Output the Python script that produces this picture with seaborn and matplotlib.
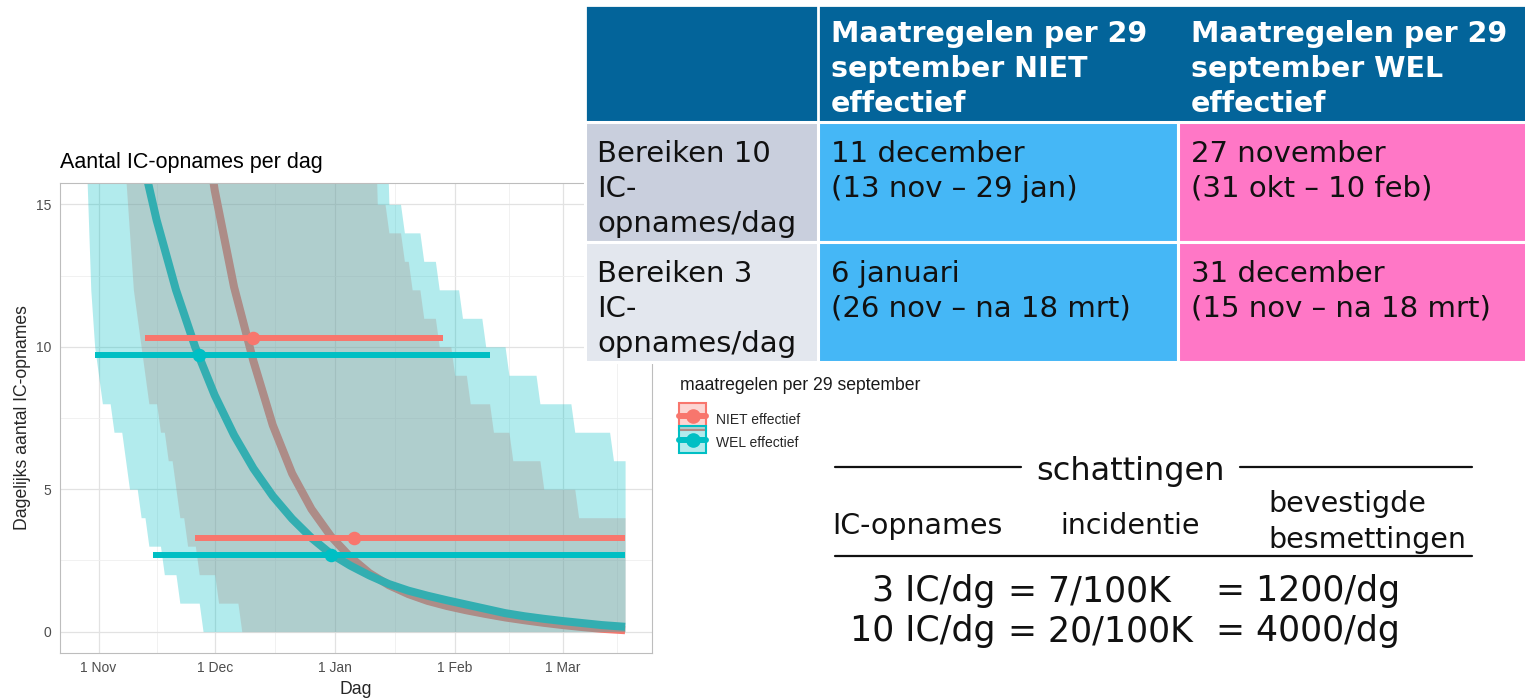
import numpy as np
import pandas as pd
import matplotlib
matplotlib.use("Agg")
import matplotlib.pyplot as plt
import matplotlib.dates as mdates
from matplotlib.patches import Rectangle, Patch
from matplotlib.lines import Line2D
from matplotlib.legend_handler import HandlerTuple, HandlerPatch
import seaborn as sns

# ---------------- data ----------------
scenarios = ["NIET effectief", "WEL effectief"]
legend_title = "maatregelen per 29 september"

# central (median) curves of daily IC admissions
wel_curve_dates = ["2020-11-01", "2020-11-06", "2020-11-11", "2020-11-16", "2020-11-21",
                   "2020-11-26", "2020-12-01", "2020-12-06", "2020-12-11", "2020-12-16",
                   "2020-12-21", "2020-12-26", "2020-12-31", "2021-01-05", "2021-01-10",
                   "2021-01-15", "2021-01-20", "2021-01-25", "2021-01-30", "2021-02-04",
                   "2021-02-09", "2021-02-14", "2021-02-19", "2021-02-24", "2021-03-01",
                   "2021-03-06", "2021-03-11", "2021-03-17"]
wel_curve = [25.2, 20.9, 17.4, 14.45, 12.0, 9.98, 8.30, 6.90, 5.73, 4.76, 3.96, 3.29, 2.73,
             2.32, 1.97, 1.67, 1.44, 1.26, 1.10, 0.95, 0.80, 0.65, 0.54, 0.45, 0.37, 0.30,
             0.23, 0.17]
niet_curve_dates = wel_curve_dates[4:]
niet_curve = [25.5, 20.0, 15.5, 12.1, 9.5, 7.25, 5.55, 4.3, 3.35, 2.62, 2.05, 1.63, 1.32,
              1.08, 0.9, 0.75, 0.62, 0.5, 0.4, 0.31, 0.23, 0.16, 0.1, 0.05]

# uncertainty bands (integer daily quantiles): dates where the bound changes, new value
ribbon_start, ribbon_end = "2020-10-29", "2021-03-17"
wel_lo_dates = ["2020-10-29", "2020-10-30", "2020-10-31", "2020-11-01", "2020-11-02",
                "2020-11-05", "2020-11-08", "2020-11-09", "2020-11-12", "2020-11-14",
                "2020-11-18", "2020-11-22", "2020-11-28"]
wel_lo_vals = [16, 12, 10, 9, 8, 7, 6, 5, 4, 3, 2, 1, 0]
wel_hi_dates = ["2020-10-29", "2021-01-15", "2021-01-19", "2021-01-24", "2021-01-28",
                "2021-02-03", "2021-02-09", "2021-02-15", "2021-02-23", "2021-03-04",
                "2021-03-14"]
wel_hi_vals = [20, 15, 14, 13, 12, 11, 10, 9, 8, 7, 6]
niet_lo_dates = ["2020-10-29", "2020-11-08", "2020-11-09", "2020-11-10", "2020-11-11",
                 "2020-11-12", "2020-11-13", "2020-11-14", "2020-11-17", "2020-11-19",
                 "2020-11-21", "2020-11-22", "2020-11-24", "2020-11-27", "2020-12-02",
                 "2020-12-08"]
niet_lo_vals = [20, 16, 14, 12, 11, 10, 9, 8, 7, 6, 5, 4, 3, 2, 1, 0]
niet_hi_dates = ["2020-10-29", "2021-01-12", "2021-01-15", "2021-01-19", "2021-01-21",
                 "2021-01-24", "2021-01-28", "2021-02-01", "2021-02-05", "2021-02-11",
                 "2021-02-16", "2021-02-24", "2021-03-05"]
niet_hi_vals = [20, 15, 14, 13, 12, 11, 10, 9, 8, 7, 6, 5, 4]

# estimated moment of reaching 10 and 3 IC admissions/day (median and range)
niet_levels = [10.3, 3.3]
niet_start = ["2020-11-13", "2020-11-26"]
niet_mid = ["2020-12-11", "2021-01-06"]
niet_end = ["2021-01-29", "2021-03-17"]
wel_levels = [9.7, 2.7]
wel_start = ["2020-10-31", "2020-11-15"]
wel_mid = ["2020-11-27", "2020-12-31"]
wel_end = ["2021-02-10", "2021-03-17"]

x_ticks = ["2020-11-01", "2020-12-01", "2021-01-01", "2021-02-01", "2021-03-01"]
x_tick_labels = ["1 Nov", "1 Dec", "1 Jan", "1 Feb", "1 Mar"]
y_ticks = [0, 5, 10, 15]
y_range = [0, 15]

chart_title = "Aantal IC-opnames per dag"
x_label = "Dag"
y_label = "Dagelijks aantal IC-opnames"

table_header = ["", "Maatregelen per 29\nseptember NIET\neffectief",
                "Maatregelen per 29\nseptember WEL\neffectief"]
table_rows = [["Bereiken 10\nIC-\nopnames/dag", "11 december\n(13 nov \u2013 29 jan)",
               "27 november\n(31 okt \u2013 10 feb)"],
              ["Bereiken 3\nIC-\nopnames/dag", "6 januari\n(26 nov \u2013 na 18 mrt)",
               "31 december\n(15 nov \u2013 na 18 mrt)"]]

schat_title = "schattingen"
schat_cols = ["IC-opnames", "incidentie", "bevestigde\nbesmettingen"]
schat_rows = [["3 IC/dg", "= 7/100K", "= 1200/dg"],
              ["10 IC/dg", "= 20/100K", "= 4000/dg"]]

# ---------------- style ----------------
sns.set_style("white")
plt.rcParams["font.family"] = ["Liberation Sans", "DejaVu Sans"]

RED, CYAN = "#F8766D", "#00BFC4"
palette = {scenarios[0]: RED, scenarios[1]: CYAN}

W, H = 1525, 699
fig = plt.figure(figsize=(W / 100, H / 100), dpi=100)
fig.patch.set_facecolor("white")

ax = fig.add_axes([60 / W, 1 - 653 / H, 592 / W, 470 / H])
ax.set_facecolor("white")

# curves (drawn first, under the ribbons)
df = pd.concat([
    pd.DataFrame({"Dag": pd.to_datetime(niet_curve_dates), "IC": niet_curve,
                  "scenario": scenarios[0]}),
    pd.DataFrame({"Dag": pd.to_datetime(wel_curve_dates), "IC": wel_curve,
                  "scenario": scenarios[1]}),
])
sns.lineplot(data=df, x="Dag", y="IC", hue="scenario", palette=palette,
             linewidth=5.8, legend=False, estimator=None, ax=ax)
for ln in ax.lines:
    ln.set_zorder(1.5)
    ln.set_solid_capstyle("butt")
    ln.set_solid_joinstyle("round")

days = pd.date_range(ribbon_start, ribbon_end, freq="D")


def steps(dates, vals):
    s = pd.Series(vals, index=pd.to_datetime(dates), dtype=float)
    return s.reindex(days, method="ffill").values


dnum = mdates.date2num(days)
ax.fill_between(dnum, steps(niet_lo_dates, niet_lo_vals), steps(niet_hi_dates, niet_hi_vals),
                color=RED, alpha=0.3, linewidth=0, zorder=2)
ax.fill_between(dnum, steps(wel_lo_dates, wel_lo_vals), steps(wel_hi_dates, wel_hi_vals),
                color=CYAN, alpha=0.3, linewidth=0, zorder=2.1)

# range lines and medians
for lv, st, md, en, col in [(niet_levels, niet_start, niet_mid, niet_end, RED),
                            (wel_levels, wel_start, wel_mid, wel_end, CYAN)]:
    ax.hlines(lv, mdates.date2num(pd.to_datetime(st)), mdates.date2num(pd.to_datetime(en)),
              colors=col, linewidth=4.3, zorder=3)
    sns.scatterplot(x=mdates.date2num(pd.to_datetime(md)), y=lv, color=col, s=95,
                    linewidth=0, zorder=4, ax=ax, legend=False)

# scales (ggplot-like 5% expansion)
t0, t1 = pd.Timestamp(ribbon_start), pd.Timestamp(ribbon_end)
span = t1 - t0
ax.set_xlim(mdates.date2num(t0 - 0.05 * span), mdates.date2num(t1 + 0.05 * span))
yspan = y_range[1] - y_range[0]
ax.set_ylim(y_range[0] - 0.05 * yspan, y_range[1] + 0.05 * yspan)

xt = pd.to_datetime(x_ticks)
ax.set_xticks(mdates.date2num(xt))
ax.set_xticklabels(x_tick_labels)
mids = list(xt[:-1] + (xt[1:] - xt[:-1]) / 2) + [xt[-1] + (xt[-1] - xt[-2]) / 2]
ax.set_xticks(mdates.date2num(pd.DatetimeIndex(mids)), minor=True)
ax.set_yticks(y_ticks)
ax.set_yticks([(a + b) / 2 for a, b in zip(y_ticks[:-1], y_ticks[1:])], minor=True)

ax.set_axisbelow(True)
ax.grid(which="major", color="#E2E2E2", linewidth=0.9)
ax.grid(which="minor", color="#EFEFEF", linewidth=0.6)
for sp in ax.spines.values():
    sp.set_color("#BDBDBD")
    sp.set_linewidth(0.8)
ax.tick_params(which="major", length=3, color="#BDBDBD", labelsize=10,
               labelcolor="#4D4D4D", pad=3)
ax.tick_params(which="minor", length=0)

ax.set_title(chart_title, loc="left", fontsize=15.5, pad=11, color="black")
ax.set_xlabel(x_label, fontsize=12.7, labelpad=4)
ax.set_ylabel(y_label, fontsize=12.7, labelpad=4)


# legend (keys: light band + range line with median point)
def full_rect(legend, orig_handle, xdescent, ydescent, width, height, fontsize):
    return Rectangle((-xdescent, -ydescent), width, height + ydescent)


handles = []
for sc in scenarios:
    c = palette[sc]
    handles.append((Patch(facecolor=matplotlib.colors.to_rgba(c, 0.3), edgecolor=c, linewidth=1.5),
                    Line2D([], [], color=c, linewidth=4.3, marker="o", markersize=9.5)))
fig.text(680 / W, 1 - 386 / H, legend_title, fontsize=12.7, color="#1A1A1A",
         ha="left", va="center")
leg = fig.legend(handles, scenarios, loc="upper left",
                 bbox_to_anchor=(679 / W, 1 - 409 / H), frameon=False, borderpad=0,
                 borderaxespad=0, fontsize=10, handlelength=1.95,
                 handleheight=1.95, labelspacing=0.15, handletextpad=0.75,
                 handler_map={tuple: HandlerTuple(ndivide=1, pad=0),
                              Patch: HandlerPatch(patch_func=full_rect)})

# ---------------- overlay: table + estimates ----------------
ov = fig.add_axes([0, 0, 1, 1], zorder=10)
ov.set_xlim(0, W)
ov.set_ylim(H, 0)
ov.axis("off")
ov.patch.set_alpha(0)

col_edges = [585, 818, 1178, 1527]
row_edges = [5, 122, 242, 362]
HEAD = "#03649A"
BLUE = "#45B7F6"
PINK = "#FF77C6"
row_fill = ["#C9CFDD", "#E3E7EE"]

ov.add_patch(Rectangle((col_edges[0], row_edges[0]), col_edges[-1] - col_edges[0],
                       row_edges[1] - row_edges[0], facecolor=HEAD, edgecolor="white", lw=2))
ov.plot([col_edges[1], col_edges[1]], [row_edges[0], row_edges[1]], color="white", lw=2)
for r in range(2):
    y0, y1 = row_edges[r + 1], row_edges[r + 2]
    for c, fc in enumerate([row_fill[r], BLUE, PINK]):
        ov.add_patch(Rectangle((col_edges[c], y0), col_edges[c + 1] - col_edges[c], y1 - y0,
                               facecolor=fc, edgecolor="white", lw=2.2))

TF = ["DejaVu Sans"]
line_step = 35
for c in (1, 2):
    for i, line in enumerate(table_header[c].split("\n")):
        ov.text(col_edges[c] + 13, 31 + i * line_step, line, fontsize=20.5, fontweight="bold",
                color="white", family=TF, va="center_baseline", ha="left")
for r in range(2):
    for c in range(3):
        for i, line in enumerate(table_rows[r][c].split("\n")):
            ov.text(col_edges[c] + (12 if c == 0 else 13), row_edges[r + 1] + 29 + i * line_step,
                    line, fontsize=21, color="#111111", family=TF, va="center_baseline",
                    ha="left")

# estimates block
ov.text(1130, 468, schat_title, fontsize=23, family=TF, ha="center", va="center_baseline",
        color="#111111")
ov.plot([835, 1021], [467, 467], color="#111111", lw=1.6)
ov.plot([1240, 1472], [467, 467], color="#111111", lw=1.6)
ov.text(832, 523, schat_cols[0], fontsize=20.5, family=TF, ha="left", va="center_baseline",
        color="#111111")
ov.text(1060, 523, schat_cols[1], fontsize=20.5, family=TF, ha="left", va="center_baseline",
        color="#111111")
for i, line in enumerate(schat_cols[2].split("\n")):
    ov.text(1268, 501 + i * 36, line, fontsize=20.5, family=TF, ha="left",
            va="center_baseline", color="#111111")
ov.plot([835, 1472], [556, 556], color="#111111", lw=1.6)
for r, row in enumerate(schat_rows):
    yy = 588 + r * 40
    ov.text(995, yy, row[0], fontsize=25, family=TF, ha="right", va="center_baseline",
            color="#111111")
    ov.text(1008, yy, row[1], fontsize=25, family=TF, ha="left", va="center_baseline",
            color="#111111")
    ov.text(1216, yy, row[2], fontsize=25, family=TF, ha="left", va="center_baseline",
            color="#111111")

fig.savefig("out.png", dpi=100, facecolor="white")
